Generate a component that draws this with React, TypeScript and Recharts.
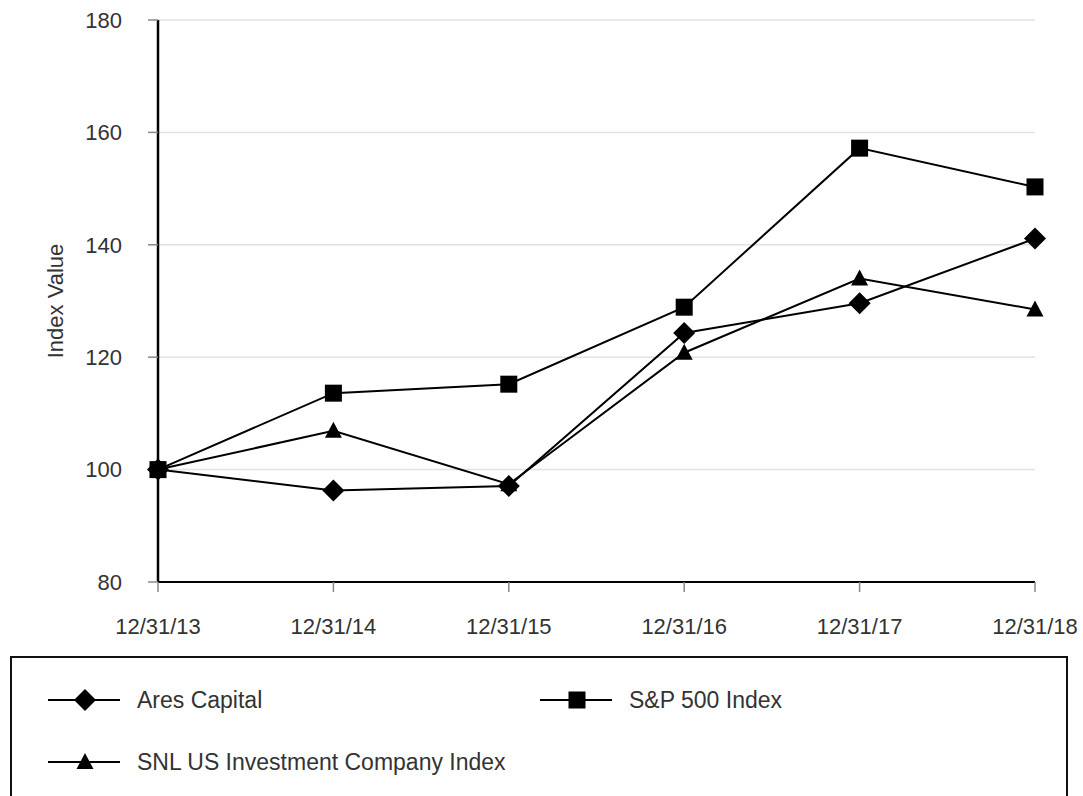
import React from "react";
import { LineChart, Line, XAxis, YAxis, CartesianGrid } from "recharts";

const dates = ["12/31/13", "12/31/14", "12/31/15", "12/31/16", "12/31/17", "12/31/18"];
const aresCapital = [100, 96.3, 97.1, 124.3, 129.6, 141.1];
const sp500 = [100, 113.6, 115.2, 128.9, 157.2, 150.3];
const snlIndex = [100, 106.9, 97.4, 120.8, 134.0, 128.5];
const yTicks = [80, 100, 120, 140, 160, 180];

const data = dates.map((d, i) => ({
  date: d,
  ares: aresCapital[i],
  sp: sp500[i],
  snl: snlIndex[i],
}));

const TEXT = "#333";
const FONT = "'Liberation Sans', Arial, sans-serif";

const Diamond = ({ cx, cy }: any) => {
  if (cx == null || cy == null) return null;
  const r = 11;
  return <path d={`M${cx},${cy - r}L${cx + r},${cy}L${cx},${cy + r}L${cx - r},${cy}Z`} fill="#000" />;
};

const Square = ({ cx, cy }: any) => {
  if (cx == null || cy == null) return null;
  const r = 8.5;
  return <rect x={cx - r} y={cy - r} width={r * 2} height={r * 2} fill="#000" />;
};

const Triangle = ({ cx, cy }: any) => {
  if (cx == null || cy == null) return null;
  return <path d={`M${cx},${cy - 9}L${cx + 8.5},${cy + 7}L${cx - 8.5},${cy + 7}Z`} fill="#000" />;
};

function LegendItem({ x, y, label, marker }: { x: number; y: number; label: string; marker: React.ReactNode }) {
  return (
    <div style={{ position: "absolute", left: x, top: y, display: "flex", alignItems: "center", height: 24 }}>
      <svg width={74} height={24} style={{ display: "block" }}>
        <line x1={0} y1={12} x2={72} y2={12} stroke="#000" strokeWidth={2} />
        <g transform="translate(37,12)">{marker}</g>
      </svg>
      <span style={{ marginLeft: 15, fontSize: 23, color: TEXT, fontFamily: FONT, whiteSpace: "nowrap" }}>{label}</span>
    </div>
  );
}

export default function App() {
  return (
    <div style={{ position: "absolute", left: 0, top: 0, width: 1083, height: 796, background: "#fff", overflow: "hidden" }}>
      <LineChart width={1083} height={640} data={data} margin={{ top: 20, right: 48, left: 0, bottom: 0 }}>
        <CartesianGrid horizontal vertical={false} stroke="#e2e2e2" strokeWidth={1.5} />
        <XAxis
          dataKey="date"
          height={58}
          tickSize={10}
          tickMargin={26}
          interval={0}
          axisLine={{ stroke: "#000", strokeWidth: 2 }}
          tickLine={{ stroke: "#888", strokeWidth: 1.5 }}
          tick={{ fill: TEXT, fontSize: 22, fontFamily: FONT }}
        />
        <YAxis
          width={158}
          domain={[80, 180]}
          ticks={yTicks}
          tickSize={10}
          tickMargin={26}
          axisLine={{ stroke: "#000", strokeWidth: 2.5 }}
          tickLine={{ stroke: "#888", strokeWidth: 1.5 }}
          tick={{ fill: TEXT, fontSize: 22, fontFamily: FONT }}
          label={{
            value: "Index Value",
            angle: -90,
            position: "insideLeft",
            dx: 50,
            style: { fill: TEXT, fontSize: 22, fontFamily: FONT, textAnchor: "middle" },
          }}
        />
        <Line dataKey="snl" stroke="#000" strokeWidth={2} dot={<Triangle />} activeDot={false} isAnimationActive={false} />
        <Line dataKey="sp" stroke="#000" strokeWidth={2} dot={<Square />} activeDot={false} isAnimationActive={false} />
        <Line dataKey="ares" stroke="#000" strokeWidth={2} dot={<Diamond />} activeDot={false} isAnimationActive={false} />
      </LineChart>
      <div
        style={{
          position: "absolute",
          left: 10,
          top: 656,
          width: 1058,
          height: 160,
          border: "2px solid #111",
          boxSizing: "border-box",
        }}
      >
        <LegendItem x={36} y={30} label="Ares Capital" marker={<Diamond cx={0} cy={0} />} />
        <LegendItem x={528} y={30} label="S&P 500 Index" marker={<Square cx={0} cy={0} />} />
        <LegendItem x={36} y={92} label="SNL US Investment Company Index" marker={<Triangle cx={0} cy={0} />} />
      </div>
    </div>
  );
}
